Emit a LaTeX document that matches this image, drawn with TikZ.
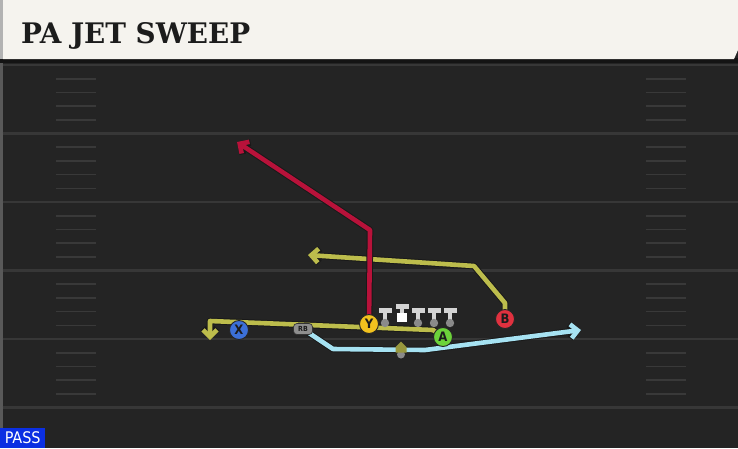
\documentclass[tikz,border=0pt]{standalone}
\usepackage{fontspec}
\setmainfont{DejaVu Sans}
\newfontfamily\titlefont{DejaVu Serif Condensed}
\newfontfamily\labfont{DejaVu Sans Condensed}
\usetikzlibrary{arrows.meta}
\definecolor{field}{HTML}{242424}
\definecolor{yardc}{HTML}{373737}
\definecolor{hashc}{HTML}{393939}
\definecolor{cream}{HTML}{F5F3EE}
\definecolor{titlec}{HTML}{1C1C1C}
\definecolor{redroute}{HTML}{B8123A}
\definecolor{oliveroute}{HTML}{BDBD4C}
\definecolor{blueroute}{HTML}{A6E2F2}
\definecolor{xblue}{HTML}{3C70D8}
\definecolor{yyellow}{HTML}{F2C21E}
\definecolor{agreen}{HTML}{6CD33A}
\definecolor{bred}{HTML}{E0313F}
\definecolor{rbgray}{HTML}{8E8E8E}
\definecolor{passblue}{HTML}{0B2FE2}
\definecolor{linec}{HTML}{D4D4D4}
\definecolor{dotc}{HTML}{8A8A8A}
\tikzset{
  yard/.style={yardc, line width=2.2pt},
  hashmark/.style={hashc, line width=1.6pt},
  rtip/.style={-{Straight Barb[length=7pt,width=14pt]}},
  routeout/.style={line width=6.6pt, draw=black!90, line join=round, rtip},
  routein/.style={line width=4.6pt, line join=round, rtip},
  player/.style={circle, draw=black!85, line width=0.9pt, minimum size=19pt, inner sep=0pt,
    text=titlec, font=\labfont\bfseries\fontsize{13}{13}\selectfont},
  rbnode/.style={rounded corners=3.5pt, fill=rbgray, draw=black!80, line width=0.7pt,
    minimum width=19pt, minimum height=11pt, inner sep=0pt, text=titlec,
    font=\labfont\bfseries\fontsize{7}{7}\selectfont},
  lineman/.pic={
    \fill[linec] (-6.5,-15) rectangle (6.5,-10);
    \fill[linec] (-2,-10) rectangle (2,-2);
    \fill[dotc] (0,0) circle (4.2);
  },
  centerman/.pic={
    \fill[linec] (-6.5,-19) rectangle (6.5,-14);
    \fill[linec] (-2,-14) rectangle (2,-10);
    \fill[white] (-5,-10) rectangle (5,-1);
  }
}
\begin{document}
\begin{tikzpicture}[x=1pt,y=-1pt]
\useasboundingbox (0,0) rectangle (738,448);
\fill[field] (0,0) rectangle (738,448);
% sideline
\fill[black!65] (0,59) rectangle (2.5,448);
% yard lines
\foreach \yy in {65,133.5,202,270.5,339,407.5}
  \draw[yard] (2.5,\yy) -- (738,\yy);
% hash marks
\foreach \k in {0,...,4}
  \foreach \j in {1,...,4} {
    \draw[hashmark] (56,65+68.5*\k+13.7*\j) -- (96,65+68.5*\k+13.7*\j);
    \draw[hashmark] (646,65+68.5*\k+13.7*\j) -- (686,65+68.5*\k+13.7*\j);
  }
% header
\fill[black!92] (0,58) rectangle (738,63);
\fill[cream] (3,0) -- (738,0) -- (738,50) -- (734,59) -- (3,59) -- cycle;
\fill[black!30] (0,0) rectangle (3,59);
\node[anchor=base west, inner sep=0pt, text=titlec] (title) at (21,43)
  {\resizebox{229pt}{21pt}{\titlefont\bfseries PA JET SWEEP}};
% PASS tag
\node[fill=passblue, anchor=south west, minimum width=45pt, minimum height=20pt,
  inner sep=0pt, text=white, font=\labfont\fontsize{16}{16}\selectfont] (pass) at (0,448) {PASS};

% route bend coordinates
\coordinate (r1) at (370,230);
\coordinate (r2) at (237,142);
\coordinate (a1) at (433,330);
\coordinate (a2) at (210,321);
\coordinate (a3) at (210,340);
\coordinate (b1) at (505,303);
\coordinate (b2) at (474,266);
\coordinate (b3) at (308,255);
\coordinate (c1) at (333,349);
\coordinate (c2) at (425,350);
\coordinate (c3) at (581,330);

% player positions
\coordinate (Ypos) at (369,324);
\coordinate (Apos) at (443,337);
\coordinate (Bpos) at (505,319);
\coordinate (Xpos) at (239,330);
\coordinate (RBpos) at (303,329);

% routes (outline then colour)
\draw[routeout] (Bpos) -- (b1) -- (b2) -- (b3);
\draw[routein, oliveroute] (Bpos) -- (b1) -- (b2) -- (b3);
\draw[routeout] (Ypos) -- (r1) -- (r2);
\draw[routein, redroute] (Ypos) -- (r1) -- (r2);
\draw[routeout] (Apos) -- (a1) -- (a2) -- (a3);
\draw[routein, oliveroute] (Apos) -- (a1) -- (a2) -- (a3);
\draw[routeout] (RBpos) -- (c1) -- (c2) -- (c3);
\draw[routein, blueroute] (RBpos) -- (c1) -- (c2) -- (c3);

% linemen
\pic at (385,323) {lineman};
\pic at (402,323) {centerman};
\pic at (418,323) {lineman};
\pic at (434,323) {lineman};
\pic at (450,323) {lineman};

% QB marker
\fill[dotc] (401,354.5) circle (4);
\fill[oliveroute!80!black] (401,341.5) -- (406.5,347) -- (406.5,352.5) -- (395.5,352.5) -- (395.5,347) -- cycle;

% players
\node[player, fill=xblue] (X) at (Xpos) {X};
\node[rbnode] (RB) at (RBpos) {RB};
\node[player, fill=yyellow] (Y) at (Ypos) {Y};
\node[player, fill=agreen] (A) at (Apos) {A};
\node[player, fill=bred] (B) at (Bpos) {B};
\end{tikzpicture}
\end{document}
